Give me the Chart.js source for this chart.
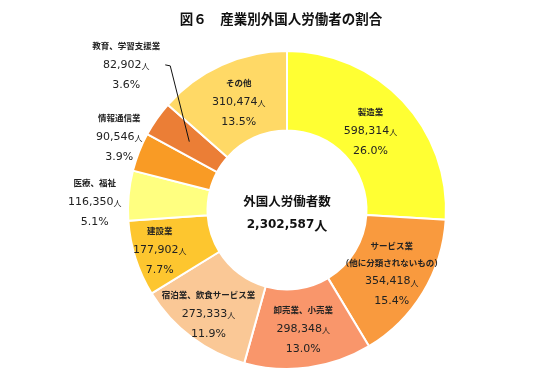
<!DOCTYPE html>
<html lang="ja">
<head>
<meta charset="utf-8">
<script src="https://cdn.jsdelivr.net/npm/chart.js@4/dist/chart.umd.min.js"></script>
<style>
  html, body { margin: 0; padding: 0; background: #fff; }
  #wrap { position: relative; width: 552px; height: 385px; }
</style>
</head>
<body>
<div id="wrap"><canvas id="grafico"></canvas></div>
<script>
// datos del gráfico
var titulo = "図６　産業別外国人労働者の割合"
var categorias = [["製造業"], ["サービス業", "（他に分類されないもの）"], ["卸売業、小売業"], ["宿泊業、飲食サービス業"],
  ["建設業"], ["医療、福祉"], ["情報通信業"], ["教育、学習支援業"], ["その他"]]
var trabajadores = [598314, 354418, 298348, 273333, 177902, 116350, 90546, 82902, 310474]
var porcentajes = ["26.0%", "15.4%", "13.0%", "11.9%", "7.7%", "5.1%", "3.9%", "3.6%", "13.5%"]
var centroTitulo = "外国人労働者数"
var total = 2302587

var colores = ['#FFFF33', '#F99A3E', '#F9966B', '#FAC896', '#FDC62F', '#FFFF80', '#F99B25', '#EB7E36', '#FFD966']
// posicion de etiquetas: factor del radio exterior y giro en grados
var radioEtiq = [0.72, 0.77, 0.76, 0.82, 0.84, 1.21, 1.15, 1.36, 0.74]
var giroEtiq = [0, 0, 0, 0, 0, -3, 2, 7, 0]

var fuenteNum = '"DejaVu Sans", "Noto Sans CJK JP", sans-serif'
var fuenteJp = '"Noto Sans CJK JP", sans-serif'

function formato(n) {
  return n.toString().replace(/\B(?=(\d{3})+(?!\d))/g, ",")
}

var etiquetas = {
  id: 'etiquetas',
  afterDatasetsDraw: function (chart) {
    var ctx = chart.ctx
    var arcos = chart.getDatasetMeta(0).data
    ctx.save()
    ctx.textAlign = 'center'
    ctx.textBaseline = 'middle'
    arcos.forEach(function (arco, i) {
      var p = arco.getProps(['x', 'y', 'startAngle', 'endAngle', 'innerRadius', 'outerRadius'])
      var ang = (p.startAngle + p.endAngle) / 2 + giroEtiq[i] * Math.PI / 180
      var r = radioEtiq[i] * p.outerRadius
      var cx = p.x + Math.cos(ang) * r
      var cy = p.y + Math.sin(ang) * r
      var nombres = categorias[i]
      var alto = 17 * (nombres.length - 1) + 19 + 20
      var y = cy - alto / 2
      ctx.fillStyle = '#222'
      ctx.font = 'bold 8.5px ' + fuenteJp
      nombres.forEach(function (n, k) {
        ctx.fillText(n, cx, y + k * 17)
      })
      var yv = y + 17 * (nombres.length - 1) + 19
      // valor + 人
      var num = formato(trabajadores[i])
      ctx.font = '11px ' + fuenteNum
      var w1 = ctx.measureText(num).width
      ctx.font = '8px ' + fuenteJp
      var w2 = ctx.measureText("人").width
      var x0 = cx - (w1 + w2) / 2
      ctx.textAlign = 'left'
      ctx.font = '11px ' + fuenteNum
      ctx.fillText(num, x0, yv)
      ctx.font = '8px ' + fuenteJp
      ctx.fillText("人", x0 + w1, yv + 1)
      ctx.textAlign = 'center'
      ctx.font = '11px ' + fuenteNum
      ctx.fillText(porcentajes[i], cx, yv + 20)
      if (radioEtiq[i] > 1.3) {
        // linea guia
        var rm = (p.innerRadius + p.outerRadius) / 2
        var mid = (p.startAngle + p.endAngle) / 2
        ctx.strokeStyle = '#111'
        ctx.lineWidth = 1
        ctx.beginPath()
        ctx.moveTo(cx + 39, yv)
        ctx.lineTo(cx + 44, yv + 1)
        ctx.lineTo(p.x + Math.cos(mid) * rm, p.y + Math.sin(mid) * rm)
        ctx.stroke()
      }
    })
    // centro
    var c = arcos[0].getProps(['x', 'y'])
    ctx.fillStyle = '#111'
    ctx.font = 'bold 12.5px ' + fuenteJp
    ctx.fillText(centroTitulo, c.x, c.y - 9)
    var tot = formato(total)
    ctx.font = 'bold 12px ' + fuenteNum
    var a1 = ctx.measureText(tot).width
    ctx.font = 'bold 13px ' + fuenteJp
    var a2 = ctx.measureText("人").width
    ctx.textAlign = 'left'
    ctx.font = 'bold 12px ' + fuenteNum
    ctx.fillText(tot, c.x - (a1 + a2) / 2, c.y + 15)
    ctx.font = 'bold 13px ' + fuenteJp
    ctx.fillText("人", c.x - (a1 + a2) / 2 + a1, c.y + 15)
    // titulo
    ctx.textAlign = 'center'
    ctx.font = 'bold 13.5px ' + fuenteJp
    ctx.fillText(titulo, 281, 19)
    ctx.restore()
  }
}

new Chart(document.getElementById('grafico'), {
  type: 'doughnut',
  data: {
    labels: categorias.map(function (c) { return c.join('') }),
    datasets: [{
      data: trabajadores,
      backgroundColor: colores,
      borderColor: '#ffffff',
      borderWidth: 2
    }]
  },
  options: {
    responsive: true,
    maintainAspectRatio: false,
    animation: false,
    cutout: '50%',
    layout: { padding: { top: 50, bottom: 15, left: 127, right: 105 } },
    plugins: {
      legend: { display: false },
      tooltip: { enabled: false }
    }
  },
  plugins: [etiquetas]
});
</script>
</body>
</html>
